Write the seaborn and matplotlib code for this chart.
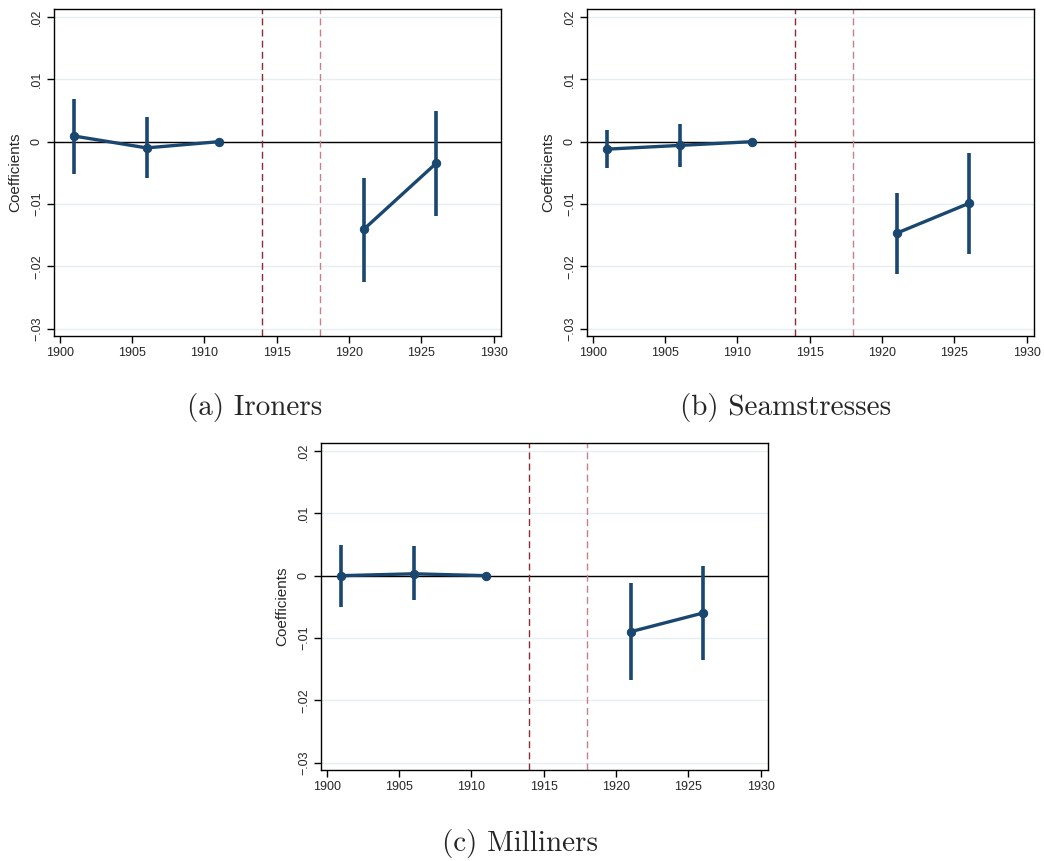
import numpy as np
import pandas as pd
import matplotlib
matplotlib.use("Agg")
import matplotlib.pyplot as plt
import seaborn as sns

# ---------------- data ----------------
years = [1901, 1906, 1911, 1921, 1926]
periods = ["pre", "pre", "pre", "post", "post"]

ironers_coef = [0.0009, -0.0010, 0.0, -0.0141, -0.0035]
ironers_lo = [-0.0052, -0.0058, np.nan, -0.0225, -0.0120]
ironers_hi = [0.0069, 0.0039, np.nan, -0.0059, 0.0049]

seam_coef = [-0.0012, -0.0006, 0.0, -0.0147, -0.0099]
seam_lo = [-0.0043, -0.0041, np.nan, -0.0213, -0.0180]
seam_hi = [0.0019, 0.0028, np.nan, -0.0082, -0.0019]

mill_coef = [0.0, 0.0003, 0.0, -0.0090, -0.0060]
mill_lo = [-0.0050, -0.0039, np.nan, -0.0168, -0.0136]
mill_hi = [0.0050, 0.0047, np.nan, -0.0012, 0.0015]

captions = ["(a) Ironers", "(b) Seamstresses", "(c) Milliners"]
event_years = [1914, 1918]
x_ticks = [1900, 1905, 1910, 1915, 1920, 1925, 1930]
y_ticks = [0.02, 0.01, 0.0, -0.01, -0.02, -0.03]
y_tick_labels = [".02", ".01", "0", "\u2212.01", "\u2212.02", "\u2212.03"]
y_label = "Coefficients"

# ---------------- style ----------------
sns.set_theme(style="white")
plt.rcParams["font.family"] = ["Liberation Sans", "DejaVu Sans"]

navy = "#1a476f"
grid_col = "#e6eff0"
ev_colors = ["#8c2a35", "#c7808a"]

fig = plt.figure(figsize=(10.44, 8.61), dpi=100)

W = 0.4282
H = 0.3798
positions = [
    (54 / 1044, 1 - 336 / 861, W, H),
    (587 / 1044, 1 - 336 / 861, W, H),
    (321 / 1044, 1 - 770 / 861, W, H),
]
caption_pos = [
    (255 / 1044, 1 - 415 / 861),
    (786 / 1044, 1 - 415 / 861),
    (520 / 1044, 1 - 851 / 861),
]

panels = [
    (ironers_coef, ironers_lo, ironers_hi),
    (seam_coef, seam_lo, seam_hi),
    (mill_coef, mill_lo, mill_hi),
]

for (coef, lo, hi), pos, cap, cpos in zip(panels, positions, captions, caption_pos):
    ax = fig.add_axes(pos)
    df = pd.DataFrame({"year": years, "coef": coef, "lo": lo, "hi": hi, "period": periods})

    # grid lines
    for yt in y_ticks:
        ax.axhline(yt, color=grid_col, lw=1.0, zorder=0)
    ax.axhline(0, color="black", lw=1.0, zorder=1)
    for ey, ec in zip(event_years, ev_colors):
        ax.axvline(ey, color=ec, lw=1.0, ls=(0, (5, 3)), zorder=1)

    ci = df.dropna(subset=["lo", "hi"])
    ax.vlines(ci["year"], ci["lo"], ci["hi"], color=navy, lw=2.6, zorder=3)

    sns.lineplot(data=df, x="year", y="coef", units="period", estimator=None,
                 color=navy, lw=2.4, marker="o", markersize=6,
                 markeredgecolor=navy, ax=ax, zorder=4, legend=False)

    ax.set_xlim(1899.6, 1930.5)
    ax.set_ylim(-0.0312, 0.0213)
    ax.set_xticks(x_ticks)
    ax.set_xticklabels([str(x) for x in x_ticks], fontsize=9)
    ax.set_yticks(y_ticks)
    ax.set_yticklabels(y_tick_labels, fontsize=9, rotation=90, va="center")
    ax.set_xlabel("")
    ax.set_ylabel(y_label, fontsize=11, labelpad=6)
    ax.tick_params(axis="both", which="both", direction="out", length=5, width=1,
                   color="black", pad=3, left=True, bottom=True)
    for s in ax.spines.values():
        s.set_color("black")
        s.set_linewidth(1.0)

    fig.text(cpos[0], cpos[1], cap, ha="center", va="baseline",
             fontsize=21, family="cmr10")

fig.savefig("out.png", dpi=100)
